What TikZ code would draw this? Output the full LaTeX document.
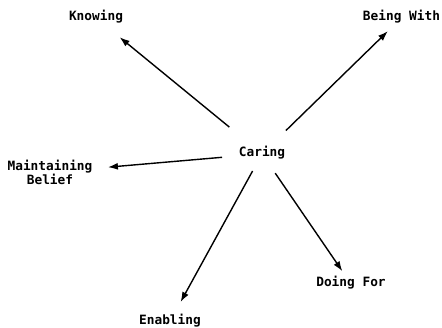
\documentclass[tikz,border=0pt]{standalone}
\usepackage{fontspec}
\newfontfamily\mono{DejaVu Sans Mono}
\usepackage{tikz}
\usetikzlibrary{arrows.meta}
\tikzstyle{lab}  = [font=\mono\bfseries\fontsize{12.8}{14}\selectfont, inner sep=0pt, text height=9.3pt, text depth=3pt]
\tikzstyle{labs} = [font=\mono\bfseries\fontsize{12.8}{14}\selectfont, inner sep=0pt, align=center]
\tikzstyle{arr}  = [black, line width=1.4pt, -{Latex[length=10pt,width=7pt]}]

\begin{document}
\begin{tikzpicture}[x=1pt,y=-1pt]
		\useasboundingbox (0,0) rectangle (442,328);

		\begin{scope}[every node/.style={lab}]
			\node (caring) at (262,153.85) {Caring};
			\node (knowing) at (96,17.85) {Knowing};
			\node (being) at (401.5,17.85) {Being With};
			\node (doing) at (351,283.85) {Doing For};
			\node (enabling) at (170,321.35) {Enabling};
		\end{scope}
		\node[labs] (belief) at (50,172.2) {Maintaining\\Belief};

		\begin{scope}[every path/.style={arr}]
			\path (caring) edge[shorten <=32.2pt, shorten >=20.6pt] (knowing);
			\path (caring) edge[shorten <=24.3pt, shorten >=10pt] (being);
			\path (caring) edge[shorten <=16.7pt, shorten >=15.4pt] (belief);
			\path (caring) edge[shorten <=12.3pt, shorten >=14.8pt] (enabling);
			\path (caring) edge[shorten <=15.7pt, shorten >=7.6pt] (doing);
		\end{scope}
	\end{tikzpicture}
\end{document}
